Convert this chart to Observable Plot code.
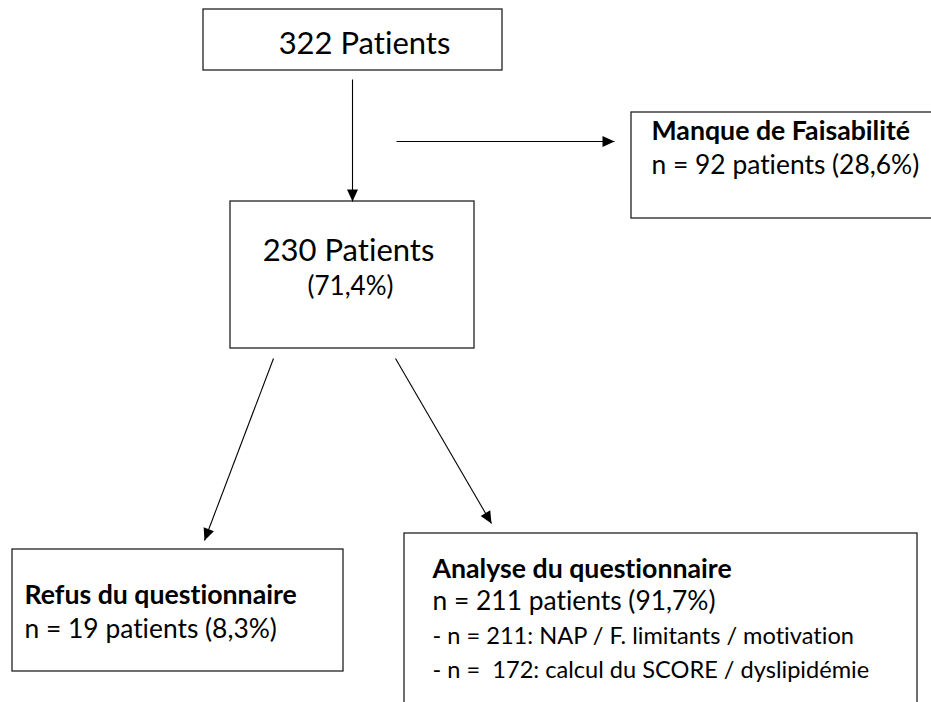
<!DOCTYPE html>
<html>
<head>
<meta charset="utf-8">
<script src="https://cdn.jsdelivr.net/npm/d3@7"></script>
<script src="https://cdn.jsdelivr.net/npm/@observablehq/plot@0.6"></script>
<style>
  html, body { margin: 0; padding: 0; background: #fff; overflow: hidden; }
  #chart svg { display: block; }
  #chart text { font-variant-ligatures: none; font-feature-settings: "liga" 0, "clig" 0; }
</style>
</head>
<body>
<div id="chart"></div>
<script>
// ---------- DATA (flow of patients) ----------
const stageTitles = ["Patients", "Patients", "Manque de Faisabilité", "Refus du questionnaire", "Analyse du questionnaire"];
const stageCounts = [322, 230, 92, 19, 211];
const stagePercents = ["", "71,4%", "28,6%", "8,3%", "91,7%"];
const subgroupCounts = [211, 172];
const subgroupLabels = ["NAP / F. limitants / motivation", "calcul du SCORE / dyslipidémie"];

// ---------- LAYOUT (pixel space of the 931 x 702 canvas) ----------
const boxLayout = [
  {x1: 203, y1: 9,   x2: 502, y2: 70},
  {x1: 230, y1: 201, x2: 474, y2: 348},
  {x1: 631, y1: 112, x2: 945, y2: 218},
  {x1: 12,  y1: 549, x2: 343, y2: 671},
  {x1: 404, y1: 533, x2: 917, y2: 715}
];
const arrowLayout = [
  {x1: 352, y1: 79,  x2: 352, y2: 201},
  {x1: 396, y1: 141, x2: 614, y2: 141},
  {x1: 273, y1: 358, x2: 204, y2: 540},
  {x1: 395, y1: 358, x2: 491, y2: 523}
];

// ---------- texts built from data ----------
const texts = [
  {text: `${stageCounts[0]} ${stageTitles[0]}`, x: 364, y: 53,  size: 31,   bold: false, anchor: "middle"},
  {text: `${stageCounts[1]} ${stageTitles[1]}`, x: 348, y: 260, size: 31,   bold: false, anchor: "middle"},
  {text: `(${stagePercents[1]})`,               x: 350, y: 294, size: 26,   bold: false, anchor: "middle"},
  {text: stageTitles[2],                        x: 651, y: 139, size: 26.7, bold: true,  anchor: "start"},
  {text: `n = ${stageCounts[2]} patients (${stagePercents[2]})`, x: 651, y: 173, size: 26.4, bold: false, anchor: "start"},
  {text: stageTitles[3],                        x: 24,  y: 603, size: 26.7, bold: true,  anchor: "start"},
  {text: `n = ${stageCounts[3]} patients (${stagePercents[3]})`, x: 24, y: 637, size: 26.4, bold: false, anchor: "start"},
  {text: stageTitles[4],                        x: 432, y: 577, size: 26.7, bold: true,  anchor: "start"},
  {text: `n = ${stageCounts[4]} patients (${stagePercents[4]})`, x: 432, y: 609, size: 26.4, bold: false, anchor: "start"},
  {text: `- n = ${subgroupCounts[0]}: ${subgroupLabels[0]}`, x: 432, y: 643, size: 23.6, bold: false, anchor: "start"},
  {text: `- n =\u00a0 ${subgroupCounts[1]}: ${subgroupLabels[1]}`, x: 432, y: 677, size: 23.6, bold: false, anchor: "start"}
];

const arrows = arrowLayout.map(a => ({...a, angle: Math.atan2(a.y2 - a.y1, a.x2 - a.x1) * 180 / Math.PI + 90}));

// filled arrow head, tip at the origin, pointing up before rotation
const headSymbol = {
  draw(context) {
    context.moveTo(0, 0);
    context.lineTo(-5.5, 12);
    context.lineTo(5.5, 12);
    context.closePath();
  }
};

const textMark = (data, weight, anchor) => Plot.text(data.filter(d => d.bold === weight && d.anchor === anchor), {
  x: "x", y: "y", text: "text", fontSize: "size",
  fontWeight: weight ? "bold" : "normal",
  textAnchor: anchor, lineAnchor: "bottom", fill: "#000"
});

const chart = Plot.plot({
  width: 931,
  height: 702,
  margin: 0,
  x: {domain: [0, 931], range: [0, 931], axis: null},
  y: {domain: [0, 702], range: [0, 702], axis: null},
  style: {fontFamily: "Lato, 'Open Sans', sans-serif", background: "#fff", overflow: "hidden"},
  marks: [
    Plot.rect(boxLayout, {x1: "x1", y1: "y1", x2: "x2", y2: "y2", fill: "#fff", stroke: "#222", strokeWidth: 1.3}),
    Plot.link(arrows, {x1: "x1", y1: "y1", x2: "x2", y2: "y2", stroke: "#000", strokeWidth: 1.1}),
    Plot.dot(arrows, {x: "x2", y: "y2", symbol: headSymbol, r: 6, fill: "#000", stroke: "none", rotate: "angle"}),
    textMark(texts, false, "middle"),
    textMark(texts, false, "start"),
    textMark(texts, true, "start")
  ]
});
document.getElementById("chart").appendChild(chart);
</script>
</body>
</html>
